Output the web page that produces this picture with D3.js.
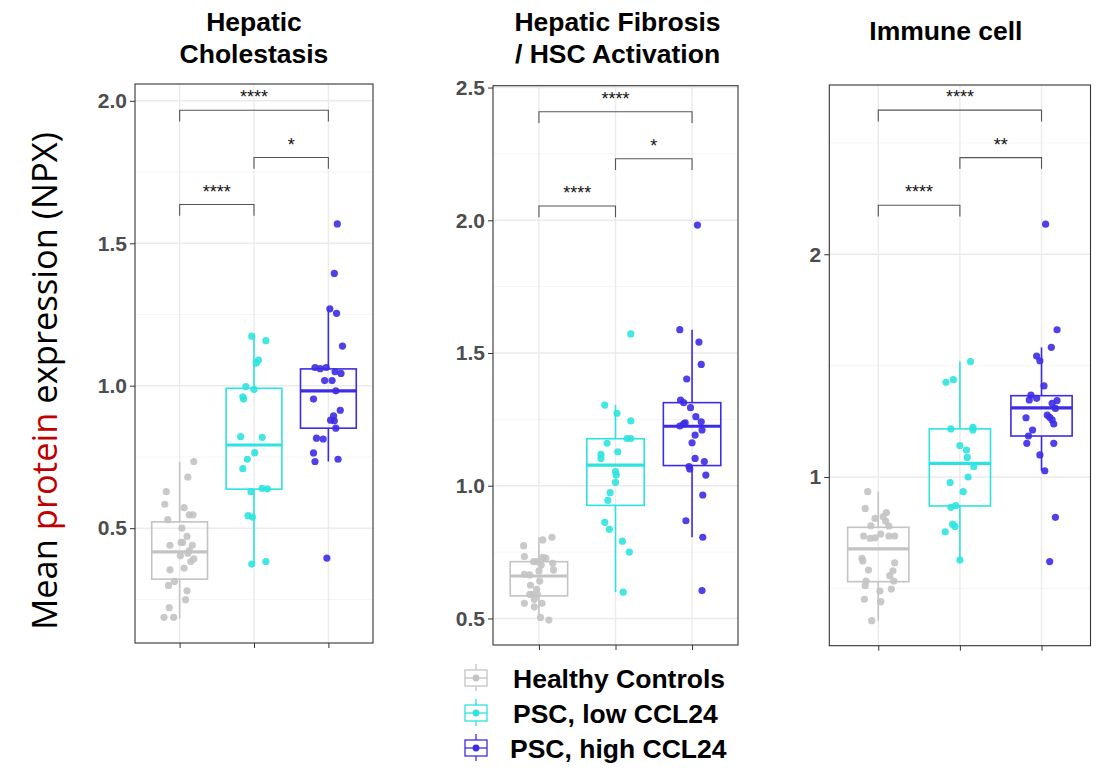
<!DOCTYPE html>
<html>
<head>
<meta charset="utf-8">
<script src="https://cdn.jsdelivr.net/npm/d3@7"></script>
<style>
  html, body { margin: 0; padding: 0; background: #ffffff; }
  svg { display: block; }
</style>
</head>
<body>
<svg id="chart" width="1102" height="771"></svg>
<script>
// ---- groups ----
const groups = ["Healthy Controls", "PSC, low CCL24", "PSC, high CCL24"];
const groupColors = ["#c3c3c3", "#2ee3df", "#3d2be6"];

// ---- panel titles ----
const panelTitles = [
  ["Hepatic", "Cholestasis"],
  ["Hepatic Fibrosis", "/ HSC Activation"],
  ["Immune cell"]
];

// ---- box statistics: [lower whisker, Q1, median, Q3, upper whisker] per group ----
const cholestasisStats = [
  [0.183, 0.321, 0.417, 0.522, 0.733],
  [0.374, 0.637, 0.792, 0.991, 1.178],
  [0.734, 0.851, 0.982, 1.059, 1.270]
];
const fibrosisStats = [
  [0.494, 0.585, 0.660, 0.714, 0.806],
  [0.599, 0.926, 1.078, 1.177, 1.304],
  [0.806, 1.076, 1.224, 1.313, 1.588]
];
const immuneStats = [
  [0.355, 0.530, 0.677, 0.774, 0.934],
  [0.627, 0.870, 1.061, 1.216, 1.518],
  [1.028, 1.184, 1.310, 1.365, 1.582]
];

// ---- individual samples (NPX) ----
const cholestasisHealthy = [0.734,0.679,0.628,0.584,0.572,0.547,0.547,0.530,0.500,0.471,0.450,0.450,0.440,0.440,0.421,0.412,0.403,0.392,0.383,0.360,0.354,0.313,0.299,0.280,0.249,0.221,0.187,0.187];
const cholestasisLow = [1.174,1.158,1.090,1.079,0.997,0.987,0.961,0.953,0.821,0.819,0.765,0.742,0.709,0.628,0.640,0.638,0.544,0.539,0.374,0.383];
const cholestasisHigh = [1.568,1.394,1.270,1.254,1.139,1.064,1.064,1.060,1.049,1.043,1.018,1.018,0.982,0.953,0.914,0.894,0.879,0.877,0.851,0.816,0.813,0.764,0.742,0.734,0.395];

const fibrosisHealthy = [0.806,0.796,0.774,0.733,0.730,0.727,0.714,0.714,0.701,0.708,0.683,0.679,0.666,0.664,0.641,0.625,0.610,0.591,0.591,0.591,0.572,0.557,0.544,0.557,0.504,0.494];
const fibrosisLow = [1.572,1.304,1.273,1.244,1.160,1.178,1.178,1.128,1.118,1.103,1.053,1.040,1.013,0.974,0.945,0.862,0.836,0.791,0.750,0.599];
const fibrosisHigh = [1.982,1.588,1.541,1.457,1.402,1.323,1.313,1.294,1.260,1.237,1.233,1.241,1.225,1.210,1.191,1.162,1.103,1.091,1.072,1.063,1.040,0.965,0.868,0.806,0.605];

const immuneHealthy = [0.934,0.859,0.840,0.814,0.822,0.802,0.781,0.780,0.744,0.735,0.725,0.727,0.735,0.735,0.635,0.623,0.615,0.582,0.579,0.557,0.533,0.533,0.512,0.497,0.488,0.451,0.440,0.355];
const immuneLow = [1.518,1.425,1.437,1.216,1.223,1.211,1.141,1.121,1.088,1.046,1.000,0.975,0.934,0.864,0.871,0.788,0.778,0.754,0.627];
const immuneHigh = [2.135,1.661,1.582,1.543,1.522,1.409,1.368,1.353,1.346,1.343,1.331,1.308,1.278,1.266,1.268,1.256,1.238,1.211,1.184,1.151,1.151,1.099,1.028,0.819,0.620];

// ---- horizontal jitter of each sample, in category units ----
const cholestasisHealthyJitter = [0.19,0.11,-0.18,-0.20,0.06,0.13,0.18,-0.16,0.03,0.10,0.02,0.04,-0.13,0.17,0.13,0.11,0.01,0.19,0.15,0.06,-0.13,-0.07,-0.15,0.10,0.08,-0.14,-0.21,-0.08];
const cholestasisLowJitter = [-0.03,0.16,0.06,0.03,-0.11,0.00,-0.15,-0.14,-0.18,0.11,0.01,-0.09,-0.15,-0.04,0.11,0.18,-0.08,-0.02,-0.03,0.16];
const cholestasisHighJitter = [0.12,0.08,0.02,0.11,0.19,-0.18,-0.03,-0.11,0.09,0.17,-0.05,0.05,0.10,-0.20,0.16,0.07,0.03,0.08,0.10,-0.16,-0.07,-0.20,0.13,-0.18,-0.02];

const fibrosisHealthyJitter = [0.17,0.05,-0.20,-0.19,0.05,0.09,-0.07,-0.02,0.03,0.18,0.19,0.00,-0.19,-0.12,0.01,-0.11,-0.03,-0.12,-0.09,-0.02,-0.06,-0.19,-0.06,0.04,0.02,0.13];
const fibrosisLowJitter = [0.20,-0.14,0.02,0.20,-0.11,0.15,0.20,0.03,-0.19,-0.19,0.00,0.01,0.00,-0.07,-0.10,-0.14,-0.08,0.09,0.18,0.10];
const fibrosisHighJitter = [0.07,-0.16,0.09,0.12,-0.07,-0.15,-0.11,-0.02,0.05,-0.09,-0.11,0.12,-0.16,0.13,0.04,0.00,0.04,0.16,-0.04,-0.03,0.18,0.14,-0.08,0.14,0.13];

const immuneHealthyJitter = [-0.13,-0.16,0.10,-0.04,0.06,0.09,-0.09,0.13,0.03,-0.18,-0.10,-0.04,0.13,0.20,-0.20,-0.19,0.20,-0.12,0.18,0.14,0.19,-0.15,-0.16,0.16,0.02,-0.17,0.03,-0.08];
const immuneLowJitter = [0.13,-0.17,-0.08,-0.11,0.16,0.16,0.00,0.08,0.09,0.17,0.10,-0.12,0.04,-0.11,-0.05,-0.09,-0.06,-0.18,0.00];
const immuneHighJitter = [0.05,0.19,0.12,-0.06,-0.02,0.03,-0.13,-0.06,-0.15,0.19,0.13,0.17,0.07,-0.19,0.10,0.13,0.15,-0.11,-0.16,-0.18,0.15,-0.02,0.04,0.17,0.10];

// ---- axis ticks ----
const cholestasisTicks = [0.5, 1.0, 1.5, 2.0];
const cholestasisMinor = [0.25, 0.75, 1.25, 1.75];
const fibrosisTicks = [0.5, 1.0, 1.5, 2.0, 2.5];
const fibrosisMinor = [0.75, 1.25, 1.75, 2.25];
const immuneTicks = [1, 2];
const immuneMinor = [0.5, 1.5, 2.5];

// ---- pairwise comparisons: [group a, group b, bracket height, label] ----
const cholestasisSignif = [[1, 3, 1.967, "****"], [2, 3, 1.801, "*"], [1, 2, 1.636, "****"]];
const fibrosisSignif = [[1, 3, 2.409, "****"], [2, 3, 2.232, "*"], [1, 2, 2.054, "****"]];
const immuneSignif = [[1, 3, 2.647, "****"], [2, 3, 2.434, "**"], [1, 2, 2.220, "****"]];

// ---- panel layout ----
const panels = [
  { left: 135, right: 373, top: 84, bottom: 643, yDomain: [0.097, 2.059], tickFmt: d3.format(".1f"),
    title: panelTitles[0], titleShift: 0,
    stats: cholestasisStats, ticks: cholestasisTicks, minor: cholestasisMinor, signif: cholestasisSignif,
    values: [cholestasisHealthy, cholestasisLow, cholestasisHigh],
    jitter: [cholestasisHealthyJitter, cholestasisLowJitter, cholestasisHighJitter] },
  { left: 493, right: 738, top: 85.7, bottom: 645, yDomain: [0.400, 2.507], tickFmt: d3.format(".1f"),
    title: panelTitles[1], titleShift: 2,
    stats: fibrosisStats, ticks: fibrosisTicks, minor: fibrosisMinor, signif: fibrosisSignif,
    values: [fibrosisHealthy, fibrosisLow, fibrosisHigh],
    jitter: [fibrosisHealthyJitter, fibrosisLowJitter, fibrosisHighJitter] },
  { left: 829.3, right: 1090.5, top: 85, bottom: 645.7, yDomain: [0.2425, 2.760], tickFmt: d3.format("d"),
    title: panelTitles[2], titleShift: -14,
    stats: immuneStats, ticks: immuneTicks, minor: immuneMinor, signif: immuneSignif,
    values: [immuneHealthy, immuneLow, immuneHigh],
    jitter: [immuneHealthyJitter, immuneLowJitter, immuneHighJitter] }
];

const svg = d3.select("#chart");
const sans = "'Liberation Sans', Arial, Helvetica, sans-serif";

panels.forEach(p => {
  const x = d3.scaleLinear().domain([0.4, 3.6]).range([p.left, p.right]);
  const y = d3.scaleLinear().domain(p.yDomain).range([p.bottom, p.top]);
  const g = svg.append("g");
  const boxHalf = (x(1.375) - x(1)); // box width 0.75 category units

  // panel background grid
  g.selectAll("line.minor").data(p.minor).join("line")
    .attr("x1", p.left).attr("x2", p.right)
    .attr("y1", d => y(d)).attr("y2", d => y(d))
    .attr("stroke", "#f2f2f2").attr("stroke-width", 0.8);
  g.selectAll("line.major").data(p.ticks).join("line")
    .attr("x1", p.left).attr("x2", p.right)
    .attr("y1", d => y(d)).attr("y2", d => y(d))
    .attr("stroke", "#ebebeb").attr("stroke-width", 1.4);
  g.selectAll("line.vgrid").data([1, 2, 3]).join("line")
    .attr("x1", d => x(d)).attr("x2", d => x(d))
    .attr("y1", p.top).attr("y2", p.bottom)
    .attr("stroke", "#ebebeb").attr("stroke-width", 1.4);

  // boxplots
  p.stats.forEach((s, i) => {
    const cx = x(i + 1), col = groupColors[i];
    const bg = g.append("g");
    bg.append("line").attr("x1", cx).attr("x2", cx).attr("y1", y(s[3])).attr("y2", y(s[4]))
      .attr("stroke", col).attr("stroke-width", 1.6);
    bg.append("line").attr("x1", cx).attr("x2", cx).attr("y1", y(s[1])).attr("y2", y(s[0]))
      .attr("stroke", col).attr("stroke-width", 1.6);
    bg.append("rect").attr("x", cx - boxHalf).attr("width", 2 * boxHalf)
      .attr("y", y(s[3])).attr("height", y(s[1]) - y(s[3]))
      .attr("fill", "none").attr("stroke", col).attr("stroke-width", 1.6);
    bg.append("line").attr("x1", cx - boxHalf).attr("x2", cx + boxHalf)
      .attr("y1", y(s[2])).attr("y2", y(s[2]))
      .attr("stroke", col).attr("stroke-width", 3.2);
  });

  // jittered samples
  p.values.forEach((vals, i) => {
    g.selectAll(null).data(vals.map((v, k) => [v, p.jitter[i][k]])).join("circle")
      .attr("cx", d => x(i + 1 + d[1]))
      .attr("cy", d => y(d[0]))
      .attr("r", 3.6)
      .attr("fill", groupColors[i])
      .attr("fill-opacity", 0.9);
  });

  // significance brackets
  const tip = 0.02 * (p.bottom - p.top);
  p.signif.forEach(([a, b, h, lab]) => {
    const yy = y(h);
    g.append("path")
      .attr("d", `M${x(a)},${yy + tip}V${yy}H${x(b)}V${yy + tip}`)
      .attr("fill", "none").attr("stroke", "#555555").attr("stroke-width", 1.1);
    g.append("text").attr("x", (x(a) + x(b)) / 2).attr("y", yy - 7)
      .attr("text-anchor", "middle").attr("font-family", sans).attr("font-size", 18)
      .attr("fill", "#111111").text(lab);
  });

  // panel border
  g.append("rect").attr("x", p.left).attr("y", p.top)
    .attr("width", p.right - p.left).attr("height", p.bottom - p.top)
    .attr("fill", "none").attr("stroke", "#333333").attr("stroke-width", 1.1);

  // y axis
  const yAxis = d3.axisLeft(y).tickValues(p.ticks).tickFormat(p.tickFmt).tickSize(5).tickPadding(3);
  const ya = g.append("g").attr("transform", `translate(${p.left},0)`).call(yAxis);
  ya.select(".domain").remove();
  ya.selectAll(".tick line").attr("stroke", "#333333");
  ya.selectAll(".tick text").attr("font-family", sans).attr("font-size", 21)
    .attr("font-weight", "bold").attr("fill", "#4d4d4d");

  // x axis (ticks only)
  const xAxis = d3.axisBottom(x).tickValues([1, 2, 3]).tickFormat("").tickSize(5);
  const xa = g.append("g").attr("transform", `translate(0,${p.bottom})`).call(xAxis);
  xa.select(".domain").remove();
  xa.selectAll(".tick line").attr("stroke", "#333333");

  // title
  const tx = (p.left + p.right) / 2 + p.titleShift;
  const lines = p.title;
  const t = g.append("text").attr("text-anchor", "middle").attr("font-family", sans)
    .attr("font-size", 26.5).attr("font-weight", "bold").attr("fill", "#000000");
  if (lines.length === 2) {
    t.append("tspan").attr("x", tx).attr("y", 31).text(lines[0]);
    t.append("tspan").attr("x", tx).attr("y", 63).text(lines[1]);
  } else {
    t.append("tspan").attr("x", tx).attr("y", 40).text(lines[0]);
  }
});

// shared y axis title
const yTitle = svg.append("text")
  .attr("transform", "translate(57,381) rotate(-90)")
  .attr("text-anchor", "middle")
  .attr("font-family", "'Open Sans', 'Noto Sans', sans-serif")
  .attr("font-size", 34.5);
yTitle.append("tspan").attr("fill", "#000000").text("Mean ");
yTitle.append("tspan").attr("fill", "#c00000").text("protein");
yTitle.append("tspan").attr("fill", "#000000").text(" expression (NPX)");

// legend
const legend = svg.append("g");
groups.forEach((name, i) => {
  const cy = 678 + i * 35;
  const cx = 476;
  const col = groupColors[i];
  const lg = legend.append("g");
  lg.append("line").attr("x1", cx).attr("x2", cx).attr("y1", cy - 14).attr("y2", cy + 13)
    .attr("stroke", col).attr("stroke-width", 1.3);
  lg.append("rect").attr("x", cx - 11).attr("y", cy - 8).attr("width", 22).attr("height", 16)
    .attr("fill", "#ffffff").attr("stroke", col).attr("stroke-width", 1.3);
  lg.append("line").attr("x1", cx - 11).attr("x2", cx + 11).attr("y1", cy).attr("y2", cy)
    .attr("stroke", col).attr("stroke-width", 1.3);
  lg.append("circle").attr("cx", cx).attr("cy", cy).attr("r", 3.4).attr("fill", col);
  lg.append("text").attr("x", i === 2 ? 510 : 513).attr("y", cy + 10)
    .attr("font-family", sans).attr("font-size", 26.5).attr("font-weight", "bold")
    .attr("fill", "#000000").text(name);
});
</script>
</body>
</html>
